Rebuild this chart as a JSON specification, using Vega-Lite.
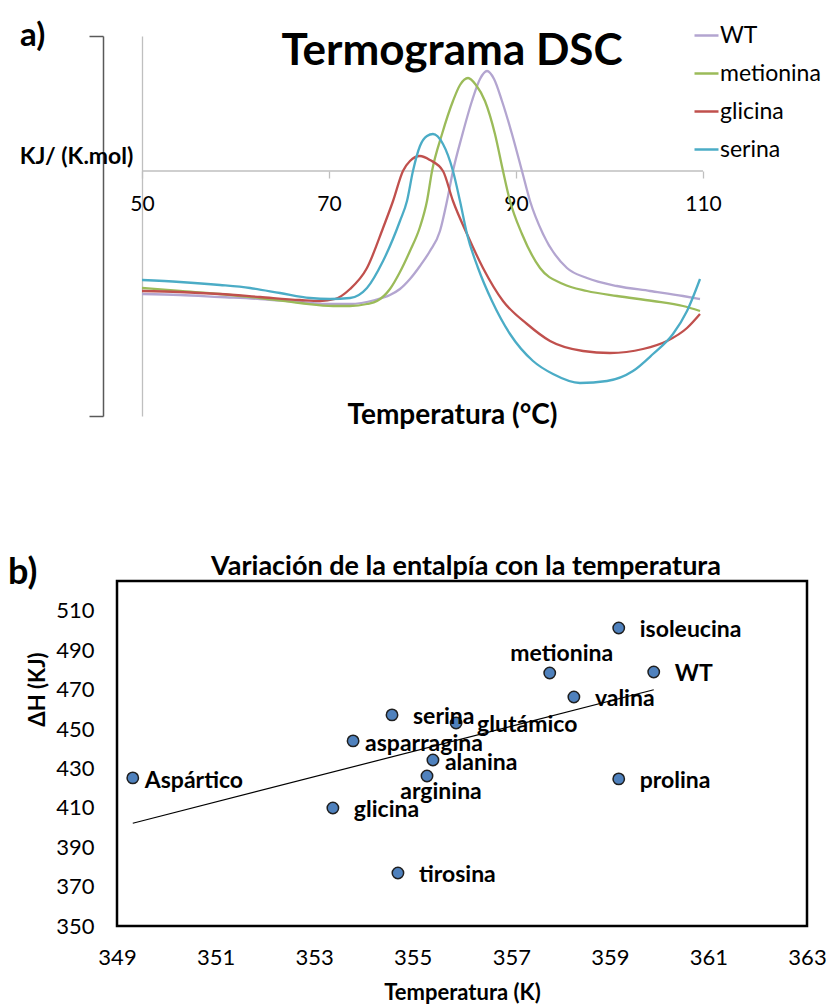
{
  "$schema": "https://vega.github.io/schema/vega-lite/v6.json",
  "background": "white",
  "padding": {"left": 6, "top": 19, "right": 5, "bottom": 5},
  "bounds": "flush",
  "spacing": 165,
  "config": {"font": "Lato", "view": {"stroke": null}},
  "datasets": {
    "dsc": [
      {"serie": "WT", "T": 50.00, "v": -12.3}, {"serie": "WT", "T": 54.06, "v": -12.4}, {"serie": "WT", "T": 58.34, "v": -12.6}, {"serie": "WT", "T": 62.62, "v": -12.8}, {"serie": "WT", "T": 66.90, "v": -13.1}, {"serie": "WT", "T": 70.11, "v": -13.3}, {"serie": "WT", "T": 72.25, "v": -13.3}, {"serie": "WT", "T": 74.92, "v": -12.9}, {"serie": "WT", "T": 76.52, "v": -12.4}, {"serie": "WT", "T": 77.59, "v": -11.8}, {"serie": "WT", "T": 78.66, "v": -10.8}, {"serie": "WT", "T": 79.73, "v": -9.5}, {"serie": "WT", "T": 80.80, "v": -8.0}, {"serie": "WT", "T": 81.87, "v": -6.0}, {"serie": "WT", "T": 82.62, "v": -3.0}, {"serie": "WT", "T": 83.26, "v": 0.0}, {"serie": "WT", "T": 84.22, "v": 3.5}, {"serie": "WT", "T": 85.29, "v": 7.0}, {"serie": "WT", "T": 86.15, "v": 9.2}, {"serie": "WT", "T": 86.90, "v": 10.0}, {"serie": "WT", "T": 87.65, "v": 9.2}, {"serie": "WT", "T": 88.50, "v": 7.0}, {"serie": "WT", "T": 89.57, "v": 3.7}, {"serie": "WT", "T": 90.64, "v": 0.0}, {"serie": "WT", "T": 91.50, "v": -3.0}, {"serie": "WT", "T": 92.89, "v": -6.3}, {"serie": "WT", "T": 95.45, "v": -9.7}, {"serie": "WT", "T": 97.59, "v": -10.7}, {"serie": "WT", "T": 100.80, "v": -11.5}, {"serie": "WT", "T": 104.33, "v": -12.0}, {"serie": "WT", "T": 107.86, "v": -12.5}, {"serie": "WT", "T": 109.68, "v": -12.8},
      {"serie": "metionina", "T": 50.00, "v": -11.7}, {"serie": "metionina", "T": 54.06, "v": -12.0}, {"serie": "metionina", "T": 58.34, "v": -12.3}, {"serie": "metionina", "T": 62.62, "v": -12.7}, {"serie": "metionina", "T": 66.90, "v": -13.2}, {"serie": "metionina", "T": 70.43, "v": -13.5}, {"serie": "metionina", "T": 72.25, "v": -13.5}, {"serie": "metionina", "T": 74.06, "v": -13.3}, {"serie": "metionina", "T": 75.13, "v": -13.0}, {"serie": "metionina", "T": 76.52, "v": -11.8}, {"serie": "metionina", "T": 77.59, "v": -10.1}, {"serie": "metionina", "T": 78.66, "v": -8.0}, {"serie": "metionina", "T": 79.73, "v": -5.6}, {"serie": "metionina", "T": 80.48, "v": -3.0}, {"serie": "metionina", "T": 81.02, "v": 0.0}, {"serie": "metionina", "T": 82.09, "v": 3.7}, {"serie": "metionina", "T": 83.26, "v": 7.0}, {"serie": "metionina", "T": 84.01, "v": 8.6}, {"serie": "metionina", "T": 84.87, "v": 9.3}, {"serie": "metionina", "T": 85.72, "v": 8.6}, {"serie": "metionina", "T": 86.68, "v": 7.0}, {"serie": "metionina", "T": 87.75, "v": 3.7}, {"serie": "metionina", "T": 88.61, "v": 0.0}, {"serie": "metionina", "T": 89.36, "v": -3.0}, {"serie": "metionina", "T": 90.64, "v": -6.3}, {"serie": "metionina", "T": 92.57, "v": -9.7}, {"serie": "metionina", "T": 95.03, "v": -11.3}, {"serie": "metionina", "T": 97.59, "v": -12.0}, {"serie": "metionina", "T": 100.80, "v": -12.5}, {"serie": "metionina", "T": 104.65, "v": -13.0}, {"serie": "metionina", "T": 107.86, "v": -13.5}, {"serie": "metionina", "T": 109.68, "v": -14.0},
      {"serie": "glicina", "T": 50.00, "v": -12.0}, {"serie": "glicina", "T": 54.06, "v": -12.1}, {"serie": "glicina", "T": 58.34, "v": -12.3}, {"serie": "glicina", "T": 62.62, "v": -12.6}, {"serie": "glicina", "T": 66.90, "v": -12.9}, {"serie": "glicina", "T": 69.04, "v": -13.0}, {"serie": "glicina", "T": 70.64, "v": -12.8}, {"serie": "glicina", "T": 72.25, "v": -11.8}, {"serie": "glicina", "T": 74.06, "v": -9.7}, {"serie": "glicina", "T": 75.78, "v": -5.7}, {"serie": "glicina", "T": 76.85, "v": -3.0}, {"serie": "glicina", "T": 77.91, "v": 0.0}, {"serie": "glicina", "T": 78.66, "v": 1.0}, {"serie": "glicina", "T": 79.73, "v": 1.5}, {"serie": "glicina", "T": 80.80, "v": 1.1}, {"serie": "glicina", "T": 82.19, "v": 0.0}, {"serie": "glicina", "T": 83.26, "v": -3.0}, {"serie": "glicina", "T": 84.76, "v": -6.3}, {"serie": "glicina", "T": 86.47, "v": -9.7}, {"serie": "glicina", "T": 88.61, "v": -13.0}, {"serie": "glicina", "T": 91.18, "v": -15.3}, {"serie": "glicina", "T": 93.64, "v": -17.0}, {"serie": "glicina", "T": 97.17, "v": -18.0}, {"serie": "glicina", "T": 100.05, "v": -18.2}, {"serie": "glicina", "T": 103.58, "v": -17.8}, {"serie": "glicina", "T": 106.15, "v": -17.0}, {"serie": "glicina", "T": 108.29, "v": -15.7}, {"serie": "glicina", "T": 109.68, "v": -14.3},
      {"serie": "serina", "T": 50.00, "v": -10.9}, {"serie": "serina", "T": 54.06, "v": -11.1}, {"serie": "serina", "T": 58.34, "v": -11.4}, {"serie": "serina", "T": 61.55, "v": -11.7}, {"serie": "serina", "T": 64.76, "v": -12.2}, {"serie": "serina", "T": 67.97, "v": -12.7}, {"serie": "serina", "T": 70.11, "v": -12.8}, {"serie": "serina", "T": 72.25, "v": -12.7}, {"serie": "serina", "T": 74.06, "v": -11.7}, {"serie": "serina", "T": 75.78, "v": -9.0}, {"serie": "serina", "T": 77.59, "v": -5.0}, {"serie": "serina", "T": 78.34, "v": -3.0}, {"serie": "serina", "T": 78.98, "v": 0.0}, {"serie": "serina", "T": 79.73, "v": 2.5}, {"serie": "serina", "T": 80.48, "v": 3.5}, {"serie": "serina", "T": 81.12, "v": 3.7}, {"serie": "serina", "T": 82.19, "v": 2.7}, {"serie": "serina", "T": 83.26, "v": 0.0}, {"serie": "serina", "T": 84.01, "v": -3.0}, {"serie": "serina", "T": 84.76, "v": -6.3}, {"serie": "serina", "T": 85.94, "v": -9.7}, {"serie": "serina", "T": 87.43, "v": -13.0}, {"serie": "serina", "T": 89.36, "v": -16.3}, {"serie": "serina", "T": 91.82, "v": -19.0}, {"serie": "serina", "T": 93.96, "v": -20.3}, {"serie": "serina", "T": 96.84, "v": -21.2}, {"serie": "serina", "T": 99.73, "v": -21.0}, {"serie": "serina", "T": 102.51, "v": -20.0}, {"serie": "serina", "T": 104.65, "v": -18.3}, {"serie": "serina", "T": 106.79, "v": -16.3}, {"serie": "serina", "T": 108.29, "v": -14.0}, {"serie": "serina", "T": 109.68, "v": -10.8}
    ],
    "entalpia": [
      {"aminoacido": "Aspártico", "T": 349.32, "dH": 425.2},
      {"aminoacido": "glicina", "T": 353.38, "dH": 409.9},
      {"aminoacido": "tirosina", "T": 354.70, "dH": 376.9},
      {"aminoacido": "asparragina", "T": 353.79, "dH": 444.0},
      {"aminoacido": "serina", "T": 354.58, "dH": 457.2},
      {"aminoacido": "glutámico", "T": 355.88, "dH": 453.1},
      {"aminoacido": "alanina", "T": 355.41, "dH": 434.3},
      {"aminoacido": "arginina", "T": 355.29, "dH": 426.2},
      {"aminoacido": "metionina", "T": 357.78, "dH": 478.5},
      {"aminoacido": "valina", "T": 358.27, "dH": 466.3},
      {"aminoacido": "isoleucina", "T": 359.18, "dH": 501.3},
      {"aminoacido": "WT", "T": 359.89, "dH": 479.0},
      {"aminoacido": "prolina", "T": 359.18, "dH": 424.7}
    ]
  },
  "vconcat": [
    {
      "width": 586,
      "height": 380,
      "title": {"text": "Termograma DSC", "fontSize": 44, "fontWeight": "bold", "color": "#000", "anchor": "middle", "frame": "group", "baseline": "alphabetic", "offset": -89, "dx": 42},
      "layer": [
        {
          "data": {"values": [{}]},
          "mark": {"type": "rule", "color": "#bfbfbf", "strokeWidth": 1.3},
          "encoding": {
            "x": {"datum": 50, "type": "quantitative"},
            "x2": {"datum": 110},
            "y": {"datum": 0, "type": "quantitative"}
          }
        },
        {
          "data": {"name": "dsc"},
          "mark": {"type": "line", "strokeWidth": 2.3, "interpolate": "monotone"},
          "encoding": {
            "x": {
              "field": "T", "type": "quantitative",
              "scale": {"domain": [47.326, 110], "nice": false, "zero": false},
              "axis": {
                "orient": "bottom", "offset": -245, "values": [50, 70, 90, 110],
                "domain": false, "ticks": true, "tickSize": 7, "tickColor": "#bfbfbf", "tickWidth": 1.3,
                "grid": true, "gridColor": "#bfbfbf", "gridWidth": 1.3,
                "gridOpacity": {"condition": {"test": "datum.value === 50", "value": 1}, "value": 0},
                "labelFontSize": 21, "labelColor": "#000", "labelPadding": 15, "labelFlush": false,
                "title": "Temperatura (°C)", "titleFontSize": 28, "titleFontWeight": "bold", "titleColor": "#000",
                "titleX": 335, "titleY": 252, "titleBaseline": "alphabetic", "titleAlign": "center"
              }
            },
            "y": {
              "field": "v", "type": "quantitative",
              "scale": {"domain": [-24.5, 13.5], "nice": false, "zero": false},
              "axis": {
                "orient": "left", "offset": 14, "values": [-24.5, 13.5],
                "domain": true, "domainColor": "#595959", "domainWidth": 1.5,
                "ticks": true, "tickSize": 14, "tickColor": "#595959", "tickWidth": 1.5,
                "labels": false, "grid": false,
                "title": "KJ/ (K.mol)", "titleAngle": 0, "titleFontSize": 23, "titleFontWeight": "bold", "titleColor": "#000",
                "titleX": -27, "titleY": 120, "titleAlign": "center", "titleBaseline": "middle"
              }
            },
            "color": {
              "field": "serie", "type": "nominal",
              "scale": {"domain": ["WT", "metionina", "glicina", "serina"], "range": ["#b3a5d0", "#9bbb59", "#c0504d", "#4bacc6"]},
              "legend": {
                "orient": "none", "legendX": 576, "legendY": -14, "title": null,
                "symbolType": "stroke", "symbolSize": 576, "symbolStrokeWidth": 2.5,
                "labelFontSize": 23, "labelColor": "#000", "labelOffset": 0, "rowPadding": 12, "padding": 0
              }
            }
          }
        },
        {
          "data": {"values": [{}]},
          "mark": {"type": "text", "text": "a)", "fontSize": 33, "fontWeight": "bold", "align": "left", "baseline": "alphabetic", "color": "#000"},
          "encoding": {
            "x": {"datum": 36.95, "type": "quantitative"},
            "y": {"datum": 12.5, "type": "quantitative"}
          }
        }
      ]
    },
    {
      "width": 690,
      "height": 345,
      "view": {"stroke": "#000", "strokeWidth": 2.5},
      "title": {"text": "Variación de la entalpía con la temperatura", "fontSize": 27, "fontWeight": "bold", "color": "#000", "anchor": "middle", "frame": "group", "baseline": "alphabetic", "offset": -47, "dx": 4},
      "data": {"name": "entalpia"},
      "layer": [
        {
          "transform": [{"regression": "dH", "on": "T"}],
          "mark": {"type": "line", "color": "#000", "strokeWidth": 1.2},
          "encoding": {
            "x": {
              "field": "T", "type": "quantitative",
              "scale": {"domain": [349, 363], "nice": false, "zero": false},
              "axis": {
                "values": [349, 351, 353, 355, 357, 359, 361, 363],
                "domain": false, "ticks": false, "tickSize": 0, "grid": false,
                "labelFontSize": 22, "labelColor": "#000", "labelPadding": 21, "labelFlush": false,
                "title": "Temperatura (K)", "titleFontSize": 22, "titleFontWeight": "bold", "titleColor": "#000",
                "titleY": 73, "titleBaseline": "alphabetic"
              }
            },
            "y": {
              "field": "dH", "type": "quantitative",
              "scale": {"domain": [350, 525.2], "nice": false, "zero": false},
              "axis": {
                "values": [350, 370, 390, 410, 430, 450, 470, 490, 510],
                "domain": false, "ticks": false, "tickSize": 0, "grid": false,
                "labelFontSize": 22, "labelColor": "#000", "labelPadding": 23,
                "title": "ΔH (KJ)", "titleFontSize": 22, "titleFontWeight": "bold", "titleColor": "#000",
                "titleX": -79.5, "titleY": 108, "titleAlign": "center", "titleBaseline": "middle", "titleAngle": 270
              }
            }
          }
        },
        {
          "mark": {"type": "circle", "size": 130, "fill": "#4f81bd", "stroke": "#1f1f1f", "strokeWidth": 1.5, "opacity": 1},
          "encoding": {
            "x": {"field": "T", "type": "quantitative"},
            "y": {"field": "dH", "type": "quantitative"}
          }
        },
        {
          "transform": [{"filter": {"field": "aminoacido", "oneOf": ["glicina", "tirosina", "serina", "glutámico", "valina", "isoleucina", "WT", "prolina"]}}],
          "mark": {"type": "text", "align": "left", "baseline": "middle", "dx": 21, "dy": 2, "fontSize": 23, "fontWeight": "bold", "color": "#000"},
          "encoding": {
            "x": {"field": "T", "type": "quantitative"},
            "y": {"field": "dH", "type": "quantitative"},
            "text": {"field": "aminoacido"}
          }
        },
        {
          "transform": [{"filter": {"field": "aminoacido", "oneOf": ["Aspártico", "asparragina", "alanina"]}}],
          "mark": {"type": "text", "align": "left", "baseline": "middle", "dx": 12, "dy": 3, "fontSize": 23, "fontWeight": "bold", "color": "#000"},
          "encoding": {
            "x": {"field": "T", "type": "quantitative"},
            "y": {"field": "dH", "type": "quantitative"},
            "text": {"field": "aminoacido"}
          }
        },
        {
          "transform": [{"filter": {"field": "aminoacido", "equal": "arginina"}}],
          "mark": {"type": "text", "align": "center", "baseline": "middle", "dx": 14, "dy": 16, "fontSize": 23, "fontWeight": "bold", "color": "#000"},
          "encoding": {
            "x": {"field": "T", "type": "quantitative"},
            "y": {"field": "dH", "type": "quantitative"},
            "text": {"field": "aminoacido"}
          }
        },
        {
          "transform": [{"filter": {"field": "aminoacido", "equal": "metionina"}}],
          "mark": {"type": "text", "align": "center", "baseline": "middle", "dx": 12, "dy": -19, "fontSize": 23, "fontWeight": "bold", "color": "#000"},
          "encoding": {
            "x": {"field": "T", "type": "quantitative"},
            "y": {"field": "dH", "type": "quantitative"},
            "text": {"field": "aminoacido"}
          }
        },
        {
          "data": {"values": [{}]},
          "mark": {"type": "text", "text": "b)", "fontSize": 36, "fontWeight": "bold", "align": "left", "baseline": "alphabetic", "color": "#000"},
          "encoding": {
            "x": {"datum": 346.79, "type": "quantitative"},
            "y": {"datum": 523.7, "type": "quantitative"}
          }
        }
      ]
    }
  ]
}
